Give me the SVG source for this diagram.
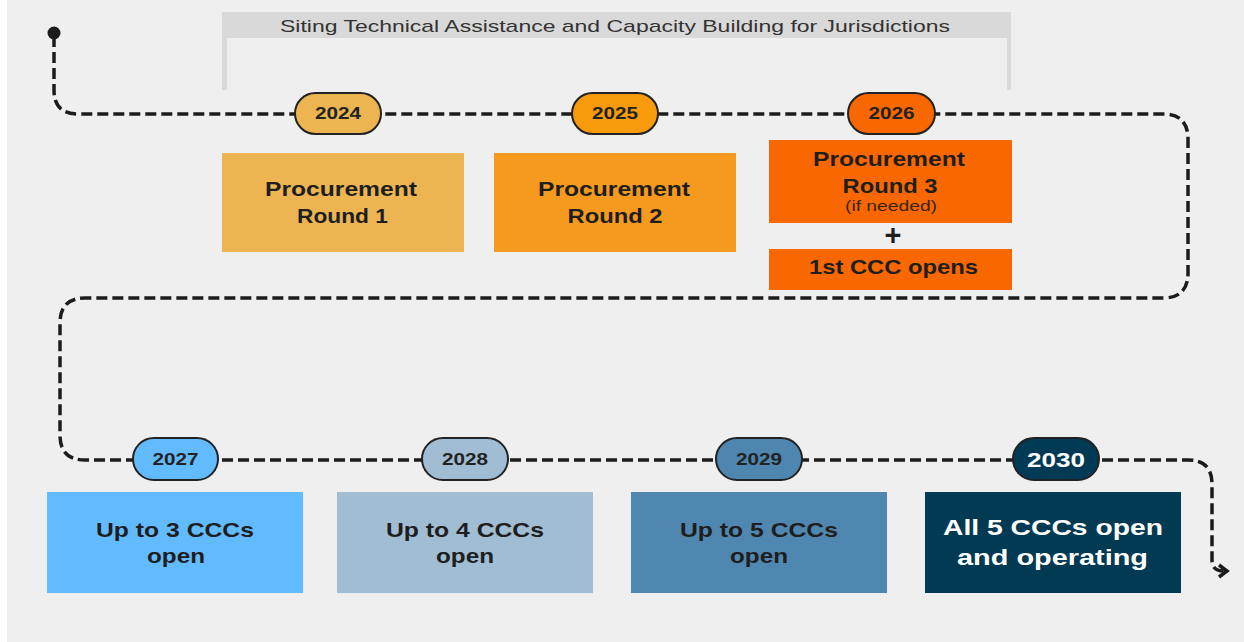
<svg xmlns="http://www.w3.org/2000/svg" width="1244" height="642" viewBox="0 0 1244 642">
<defs>
<style>
.bg{fill:#efefef}
.line{fill:none;stroke:#1c1c1c;stroke-width:3.5;stroke-dasharray:11 5}
.pill{stroke:#222;stroke-width:2}
.pt{font-family:"Liberation Sans",Arial,sans-serif;font-weight:bold;font-size:17px;fill:#222;text-anchor:middle}
.bt{font-family:"Liberation Sans",Arial,sans-serif;font-weight:bold;font-size:21px;fill:#1e1e1e;text-anchor:middle}
.wt{fill:#ffffff}
.st{font-family:"Liberation Sans",Arial,sans-serif;font-size:14px;fill:#3a2410;text-anchor:middle}
.title{font-family:"Liberation Sans",Arial,sans-serif;font-size:17px;fill:#333;text-anchor:middle}
</style>
</defs>
<rect x="0" y="0" width="1244" height="642" class="bg"/>
<rect x="0" y="0" width="7" height="642" fill="#ffffff"/>

<g id="bracket">
<path d="M222,12 H1011 V90 H1007 V38 H227 V90 H222 Z" fill="#d9d9d9"/>
<text class="title" x="615" y="32" textLength="670" lengthAdjust="spacingAndGlyphs">Siting Technical Assistance and Capacity Building for Jurisdictions</text>
</g>

<g id="connectors">
<circle cx="54" cy="33" r="6.5" fill="#1c1c1c"/>
<path class="line" d="M54,36 V90 Q54,114 78,114 H1163 Q1188,114 1188,139 V273 Q1188,298 1163,298 H85 Q60,298 60,323 V435 Q60,460 85,460 H1188 Q1212,460 1212,484 V562 Q1213,571 1224,571"/>
<polyline points="1219,565 1227,571 1219,577" fill="none" stroke="#1c1c1c" stroke-width="3.5" stroke-linejoin="miter"/>
</g>

<g id="y2024">
<rect class="pill" x="295" y="93" width="86" height="41" rx="20.5" fill="#ecb552"/>
<text class="pt" x="338" y="119" textLength="46" lengthAdjust="spacingAndGlyphs">2024</text>
</g>
<g id="y2025">
<rect class="pill" x="572" y="93" width="86" height="41" rx="20.5" fill="#f79a0c"/>
<text class="pt" x="615" y="119" textLength="46" lengthAdjust="spacingAndGlyphs">2025</text>
</g>
<g id="y2026">
<rect class="pill" x="848" y="93" width="87" height="41" rx="20.5" fill="#f96700"/>
<text class="pt" x="891.5" y="119" textLength="46" lengthAdjust="spacingAndGlyphs">2026</text>
</g>

<g id="round1">
<rect x="222" y="153" width="242" height="99" fill="#ecb552"/>
<text class="bt" x="341" y="196" textLength="152" lengthAdjust="spacingAndGlyphs">Procurement</text>
<text class="bt" x="342.5" y="223" textLength="91" lengthAdjust="spacingAndGlyphs">Round 1</text>
</g>
<g id="round2">
<rect x="494" y="153" width="242" height="99" fill="#f6991f"/>
<text class="bt" x="614" y="196" textLength="152" lengthAdjust="spacingAndGlyphs">Procurement</text>
<text class="bt" x="615" y="223" textLength="95" lengthAdjust="spacingAndGlyphs">Round 2</text>
</g>
<g id="round3">
<rect x="769" y="140" width="243" height="83" fill="#f96700"/>
<text class="bt" x="889" y="166" textLength="152" lengthAdjust="spacingAndGlyphs">Procurement</text>
<text class="bt" x="890" y="193" textLength="95" lengthAdjust="spacingAndGlyphs">Round 3</text>
<text class="st" x="891" y="211" textLength="92" lengthAdjust="spacingAndGlyphs">(if needed)</text>
</g>
<g id="plus">
<text class="bt" x="893" y="245" style="font-size:29px">+</text>
</g>
<g id="ccc1">
<rect x="769" y="249" width="243" height="41" fill="#f96700"/>
<text class="bt" x="893.5" y="274" textLength="169" lengthAdjust="spacingAndGlyphs">1st CCC opens</text>
</g>

<g id="y2027">
<rect class="pill" x="133" y="438" width="85" height="42" rx="21" fill="#63bbff"/>
<text class="pt" x="175.5" y="465" textLength="46" lengthAdjust="spacingAndGlyphs">2027</text>
</g>
<g id="y2028">
<rect class="pill" x="422" y="438" width="86" height="42" rx="21" fill="#a1bdd3"/>
<text class="pt" x="465" y="465" textLength="46" lengthAdjust="spacingAndGlyphs">2028</text>
</g>
<g id="y2029">
<rect class="pill" x="716" y="438" width="86" height="42" rx="21" fill="#4e86b0"/>
<text class="pt" x="759" y="465" textLength="46" lengthAdjust="spacingAndGlyphs">2029</text>
</g>
<g id="y2030">
<rect class="pill" x="1013" y="438" width="86" height="42" rx="21" fill="#003a55"/>
<text class="pt wt" x="1056" y="466.5" style="font-size:21px" textLength="58" lengthAdjust="spacingAndGlyphs">2030</text>
</g>

<g id="open3">
<rect x="47" y="492" width="256" height="101" fill="#63bbff"/>
<text class="bt" x="175" y="537" textLength="158" lengthAdjust="spacingAndGlyphs">Up to 3 CCCs</text>
<text class="bt" x="176" y="563" textLength="58" lengthAdjust="spacingAndGlyphs">open</text>
</g>
<g id="open4">
<rect x="337" y="492" width="256" height="101" fill="#a1bdd3"/>
<text class="bt" x="465" y="537" textLength="158" lengthAdjust="spacingAndGlyphs">Up to 4 CCCs</text>
<text class="bt" x="465" y="563" textLength="58" lengthAdjust="spacingAndGlyphs">open</text>
</g>
<g id="open5">
<rect x="631" y="492" width="256" height="101" fill="#5087b0"/>
<text class="bt" x="759" y="537" textLength="158" lengthAdjust="spacingAndGlyphs">Up to 5 CCCs</text>
<text class="bt" x="759" y="563" textLength="58" lengthAdjust="spacingAndGlyphs">open</text>
</g>
<g id="all5">
<rect x="925" y="492" width="256" height="101" fill="#033a53"/>
<text class="bt wt" x="1053" y="535" style="font-size:22px" textLength="220" lengthAdjust="spacingAndGlyphs">All 5 CCCs open</text>
<text class="bt wt" x="1052.5" y="565" style="font-size:22px" textLength="191" lengthAdjust="spacingAndGlyphs">and operating</text>
</g>
</svg>
